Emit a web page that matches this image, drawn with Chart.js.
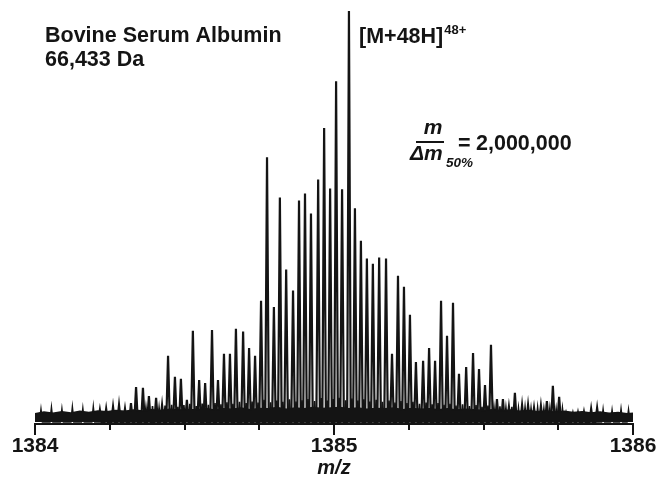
<!DOCTYPE html>
<html>
<head>
<meta charset="utf-8">
<script src="https://cdn.jsdelivr.net/npm/chart.js@4.4.1/dist/chart.umd.min.js"></script>
<style>
  html, body { margin: 0; padding: 0; background: #fff; }
</style>
</head>
<body>
<canvas id="spectrum" width="659" height="478"></canvas>
<script>
// isotope peaks of the 48+ charge state (m/z, relative intensity)
const peakMz = [
  1384.217, 1384.238, 1384.261, 1384.281, 1384.301, 1384.321, 1384.338, 1384.361, 1384.381, 1384.405,
  1384.425, 1384.445, 1384.468, 1384.488, 1384.508, 1384.528, 1384.549, 1384.569, 1384.592, 1384.612,
  1384.632, 1384.652, 1384.672, 1384.696, 1384.716, 1384.736, 1384.756, 1384.776, 1384.799, 1384.819,
  1384.840, 1384.863, 1384.883, 1384.903, 1384.923, 1384.947, 1384.967, 1384.987, 1385.007, 1385.027,
  1385.050, 1385.070, 1385.090, 1385.110, 1385.130, 1385.151, 1385.174, 1385.194, 1385.214, 1385.234,
  1385.254, 1385.274, 1385.298, 1385.318, 1385.338, 1385.358, 1385.378, 1385.398, 1385.418, 1385.442,
  1385.465, 1385.485, 1385.505, 1385.525, 1385.545, 1385.565, 1385.585, 1385.605, 1385.629, 1385.649,
  1385.669, 1385.692, 1385.712, 1385.732, 1385.753, 1385.776, 1385.799, 1385.816, 1385.836, 1385.860,
  1385.880
];
const peakInt = [
  2.9, 3.2, 3.7, 4.1, 3.2, 4.6, 8.5, 8.3, 6.3, 5.9,
  4.1, 16.1, 11.0, 10.5, 5.4, 22.2, 10.2, 9.5, 22.4, 10.2,
  16.6, 16.6, 22.7, 22.0, 18.0, 16.1, 29.5, 64.4, 28.0, 54.6,
  37.1, 32.0, 53.9, 55.6, 50.7, 59.0, 71.5, 56.8, 82.9, 56.6,
  100, 52.0, 44.1, 39.8, 38.5, 40.0, 39.8, 16.6, 35.6, 32.9,
  26.1, 14.6, 14.9, 18.0, 14.9, 29.5, 21.0, 29.0, 11.7, 13.4,
  16.8, 12.9, 9.0, 18.8, 5.6, 5.6, 3.7, 7.1, 4.1, 4.1,
  3.4, 3.9, 5.1, 8.8, 6.1, 2.0, 2.0, 2.2, 2.4, 3.2,
  3.4
];

// small spikes in the grass between the isotope peaks
const minorMz = [
  1384.020, 1384.055, 1384.090, 1384.125, 1384.160, 1384.195,
  1384.371, 1384.393, 1384.415, 1384.435, 1384.457, 1384.478, 1384.498, 1384.518, 1384.539, 1384.559,
  1384.580, 1384.602, 1384.622, 1384.642, 1384.662, 1384.684, 1384.706, 1384.726, 1384.746, 1384.766,
  1384.788, 1384.809, 1384.829, 1384.851, 1384.873, 1384.893, 1384.913, 1384.935, 1384.957, 1384.977,
  1384.997, 1385.017, 1385.039, 1385.060, 1385.080, 1385.100, 1385.120, 1385.141, 1385.162, 1385.184,
  1385.204, 1385.224, 1385.244, 1385.264, 1385.286, 1385.308, 1385.328, 1385.348, 1385.368, 1385.388,
  1385.408, 1385.430, 1385.453, 1385.475, 1385.495, 1385.515, 1385.535, 1385.555, 1385.575, 1385.595,
  1385.617, 1385.639, 1385.659, 1385.681, 1385.702, 1385.722, 1385.743, 1385.764,
  1385.900, 1385.930, 1385.960, 1385.985
];
const minorInt = [
  3.0, 3.4, 3.1, 3.5, 3.2, 3.6,
  3.6, 3.9, 3.5, 4.0, 4.2, 3.7, 4.1, 4.4, 3.9, 4.5,
  4.2, 4.6, 4.3, 4.8, 4.4, 4.9, 4.6, 5.0, 4.7, 5.4,
  4.8, 5.2, 4.9, 5.5, 5.0, 5.3, 5.6, 5.1, 5.8, 5.2,
  5.6, 5.9, 5.3, 5.7, 5.2, 5.5, 5.0, 5.4, 4.9, 5.2,
  4.7, 5.1, 4.6, 4.9, 4.4, 4.7, 4.3, 4.6, 4.2, 4.4,
  4.0, 4.3, 3.9, 4.1, 3.7, 4.0, 3.6, 3.8, 3.5, 3.7,
  3.4, 3.6, 3.3, 3.5, 3.2, 3.4, 3.2, 3.3,
  3.0, 2.8, 3.1, 2.9
];

// upper edge of the noise band along the baseline
const baselineMz = [
  1384.00, 1384.03, 1384.06, 1384.09, 1384.12, 1384.15, 1384.18, 1384.21, 1384.24, 1384.27,
  1384.30, 1384.33, 1384.36, 1384.39, 1384.42, 1384.45, 1384.48, 1384.51, 1384.54, 1384.57,
  1384.60, 1384.63, 1384.66, 1384.69, 1384.72, 1384.75, 1384.78, 1384.81, 1384.84, 1384.87,
  1384.90, 1384.93, 1384.96, 1384.99, 1385.02, 1385.05, 1385.08, 1385.11, 1385.14, 1385.17,
  1385.20, 1385.23, 1385.26, 1385.29, 1385.32, 1385.35, 1385.38, 1385.41, 1385.44, 1385.47,
  1385.50, 1385.53, 1385.56, 1385.59, 1385.62, 1385.65, 1385.68, 1385.71, 1385.74, 1385.77,
  1385.80, 1385.83, 1385.86, 1385.89, 1385.92, 1385.95, 1385.98, 1386.00
];
const baselineInt = [
  2.0, 2.4, 2.1, 2.5, 2.2, 2.6, 2.3, 2.7, 2.5, 2.8,
  2.6, 2.9, 2.7, 3.0, 2.8, 3.1, 2.9, 3.0, 3.0, 3.3,
  2.9, 3.2, 3.1, 3.4, 3.0, 3.3, 3.2, 3.5, 3.1, 3.4,
  3.2, 3.5, 3.3, 3.4, 3.5, 3.2, 3.4, 3.1, 3.3, 3.2,
  3.4, 3.0, 3.3, 3.1, 3.2, 3.0, 3.2, 2.9, 3.1, 3.0,
  2.8, 3.0, 2.7, 2.9, 2.6, 2.8, 2.5, 2.7, 2.4, 2.6,
  2.3, 2.5, 2.2, 2.4, 2.1, 2.3, 2.0, 2.1
];

const majorTicks = [1384, 1385, 1386];
const minorTicks = [1384.25, 1384.5, 1384.75, 1385.25, 1385.5, 1385.75];

const INK = "#141414";
const FONT = '"Liberation Sans", Arial, Helvetica, sans-serif';

// each stick becomes a narrow triangle: foot, apex, foot
function stickPoints(mzList, intList, halfWidth) {
  const pts = [];
  mzList.forEach((mz, i) => {
    pts.push({ x: mz - halfWidth, y: 0 });
    pts.push({ x: mz, y: intList[i] });
    pts.push({ x: mz + halfWidth, y: 0 });
  });
  return pts;
}

const annotations = {
  id: "annotations",
  afterDraw(chart) {
    const { ctx } = chart;
    const xs = chart.scales.x;
    const bottom = chart.chartArea.bottom;

    ctx.save();
    ctx.strokeStyle = INK;
    ctx.lineWidth = 2;
    ctx.beginPath();
    minorTicks.forEach((v) => {
      const px = Math.round(xs.getPixelForValue(v));
      ctx.moveTo(px, bottom);
      ctx.lineTo(px, bottom + 6);
    });
    majorTicks.forEach((v) => {
      const px = Math.round(xs.getPixelForValue(v));
      ctx.moveTo(px, bottom);
      ctx.lineTo(px, bottom + 11);
    });
    ctx.stroke();

    ctx.fillStyle = INK;
    ctx.textBaseline = "alphabetic";
    ctx.textAlign = "left";
    ctx.font = "bold 21.5px " + FONT;
    ctx.fillText("Bovine Serum Albumin", 45, 42);
    ctx.fillText("66,433 Da", 45, 66);

    ctx.font = "bold 21.5px " + FONT;
    ctx.fillText("[M+48H]", 359, 43);
    const ionW = ctx.measureText("[M+48H]").width;
    ctx.font = "bold 13px " + FONT;
    ctx.fillText("48+", 359 + ionW + 1, 34);

    // m / Δm50% = 2,000,000
    ctx.font = "italic bold 21px " + FONT;
    ctx.textAlign = "center";
    ctx.fillText("m", 433, 134);
    ctx.textAlign = "left";
    ctx.fillText("Δm", 410, 160);
    ctx.beginPath();
    ctx.lineWidth = 2;
    ctx.moveTo(416, 142);
    ctx.lineTo(444, 142);
    ctx.stroke();
    ctx.font = "italic bold 13.5px " + FONT;
    ctx.fillText("50%", 446, 167);
    ctx.font = "bold 21.5px " + FONT;
    ctx.fillText("=", 458, 150);
    ctx.fillText("2,000,000", 476, 150);
    ctx.restore();
  },
};

new Chart(document.getElementById("spectrum"), {
  type: "line",
  data: {
    datasets: [
      {
        label: "noise",
        data: baselineMz.map((mz, i) => ({ x: mz, y: baselineInt[i] })),
        borderColor: INK,
        backgroundColor: INK,
        borderWidth: 1.5,
        fill: "origin",
        pointRadius: 0,
        tension: 0,
      },
      {
        label: "grass",
        data: stickPoints(minorMz, minorInt, 0.005),
        borderColor: INK,
        borderWidth: 1.6,
        fill: false,
        pointRadius: 0,
        tension: 0,
      },
      {
        label: "[M+48H]48+",
        data: stickPoints(peakMz, peakInt, 0.006),
        borderColor: INK,
        borderWidth: 2.2,
        fill: false,
        pointRadius: 0,
        tension: 0,
      },
    ],
  },
  options: {
    responsive: false,
    animation: false,
    layout: { padding: { left: 35, right: 26, top: 8, bottom: 0 } },
    plugins: {
      legend: { display: false },
      tooltip: { enabled: false },
    },
    scales: {
      x: {
        type: "linear",
        min: 1384,
        max: 1386,
        afterFit(scale) {
          scale.height = 54;
          scale.paddingLeft = 0;
          scale.paddingRight = 0;
        },
        grid: { drawOnChartArea: false, drawTicks: false },
        border: { display: true, color: INK, width: 2 },
        ticks: {
          stepSize: 1,
          autoSkip: false,
          maxRotation: 0,
          padding: 10,
          color: INK,
          font: { family: FONT, size: 21, weight: "bold" },
          callback: (v) => String(v),
        },
        title: {
          display: true,
          text: "m/z",
          color: INK,
          padding: 0,
          font: { family: FONT, size: 20, weight: "bold", style: "italic", lineHeight: 1 },
        },
      },
      y: {
        display: false,
        min: -0.49,
        max: 100.73,
      },
    },
  },
  plugins: [annotations],
});
</script>
</body>
</html>
